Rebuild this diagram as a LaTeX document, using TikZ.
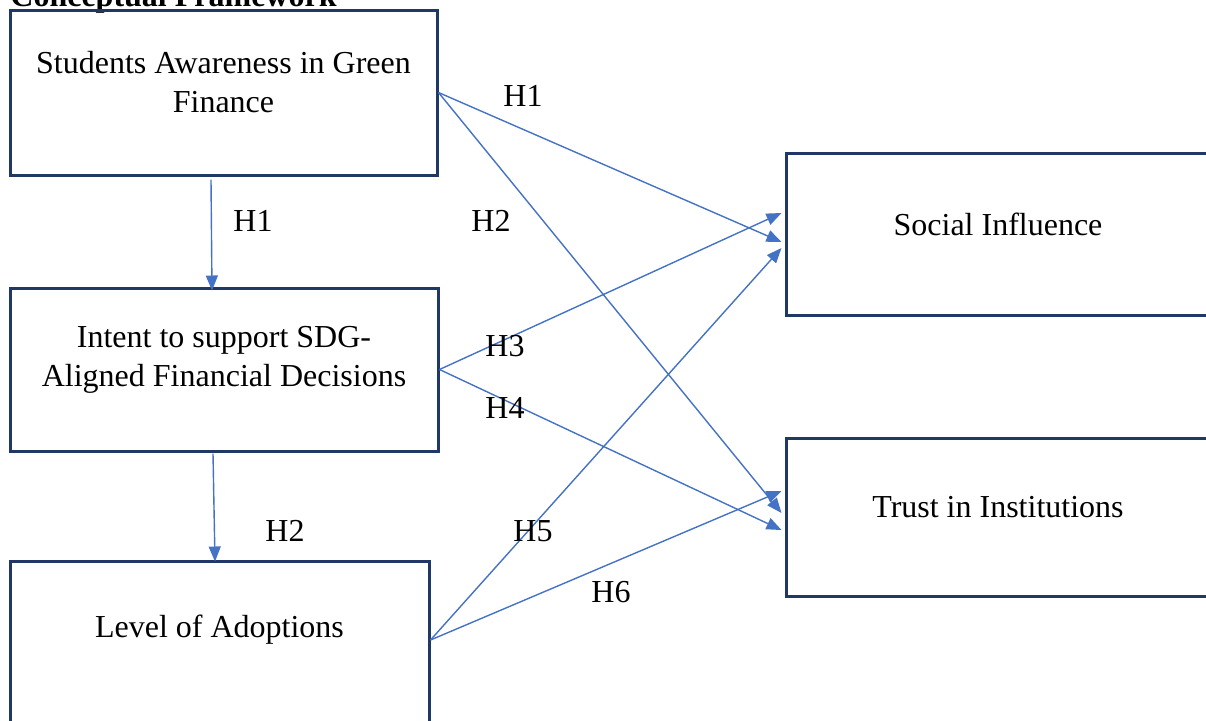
\documentclass[tikz,border=0pt]{standalone}
\usepackage{fontspec}
\setmainfont{Liberation Serif}
\usetikzlibrary{arrows.meta,positioning}
\definecolor{framenavy}{HTML}{1F3864}
\definecolor{pathblue}{HTML}{4472C4}

\begin{document}
\begin{tikzpicture}[
    x=0.5pt, y=-0.5pt,
    box/.style={rectangle, draw=framenavy, line width=1.5pt, inner sep=0pt},
    boxtext/.style={align=center, inner sep=0pt, font=\fontsize{16}{19.5}\selectfont},
    hyp/.style={inner sep=0pt, font=\fontsize{16}{19.5}\selectfont},
    arrow/.style={-{Triangle[length=7.5pt,width=6pt]}, draw=pathblue, line width=0.7pt}
]
    \clip (0,0) rectangle (1206,720);

    % Title (cut at the top edge)
    \node[anchor=base west, inner sep=0pt, font=\bfseries\fontsize{16}{19.5}\selectfont] (title) at (10,6) {Conceptual Framework};

    % Left column
    \node[box, minimum width=213.5pt, minimum height=82.5pt] (aware) at (223.5,92.5) {};
    \node[box, minimum width=214pt, minimum height=81.5pt] (intent) at (224,369.5) {};
    \node[box, minimum width=209.5pt, minimum height=83pt] (adopt) at (219.5,644) {};

    % Right column (runs past the right edge)
    \node[box, minimum width=212pt, minimum height=81pt] (social) at (998,234) {};
    \node[box, minimum width=212pt, minimum height=79pt] (trust) at (998,517) {};

    % Box texts
    \node[boxtext] (awaretxt) at ([yshift=5pt]aware.center) {Students Awareness in Green\\Finance};
    \node[boxtext] (intenttxt) at ([yshift=5pt]intent.center) {Intent to support SDG-\\Aligned Financial Decisions};
    \node[boxtext] (adopttxt) at ([yshift=7pt]adopt.center) {Level of Adoptions};
    \node[boxtext] (socialtxt) at ([yshift=5pt]social.center) {Social Influence};
    \node[boxtext] (trusttxt) at ([yshift=5pt]trust.center) {Trust in Institutions};

    % Down the left column
    \draw[arrow] ([shift={(-12.5,3)}]aware.south) -- ([shift={(-12,4)}]intent.north);
    \draw[arrow] ([shift={(-11,1)}]intent.south) -- ([shift={(-4.5,2)}]adopt.north);

    % Across to the right column
    \draw[arrow] (aware.east) -- ([shift={(-3,8)}]social.west);
    \draw[arrow] (aware.east) -- ([shift={(-3,-4)}]trust.west);
    \draw[arrow] (intent.east) -- ([shift={(-3,-21)}]social.west);
    \draw[arrow] (intent.east) -- ([shift={(-3,13)}]trust.west);
    \draw[arrow] ([yshift=2pt]adopt.east) -- ([shift={(-3,14)}]social.west);
    \draw[arrow] ([yshift=2pt]adopt.east) -- ([shift={(-3,-26)}]trust.west);

    % Hypothesis labels
    \node[hyp] (h1a) at (253,221) {H1};
    \node[hyp] (h2a) at (285,531) {H2};
    \node[hyp] (h1b) at (523,96) {H1};
    \node[hyp] (h2b) at (491,221) {H2};
    \node[hyp] (h3) at (505,346) {H3};
    \node[hyp] (h4) at (505,408) {H4};
    \node[hyp] (h5) at (533,531) {H5};
    \node[hyp] (h6) at (611,592) {H6};
\end{tikzpicture}
\end{document}
